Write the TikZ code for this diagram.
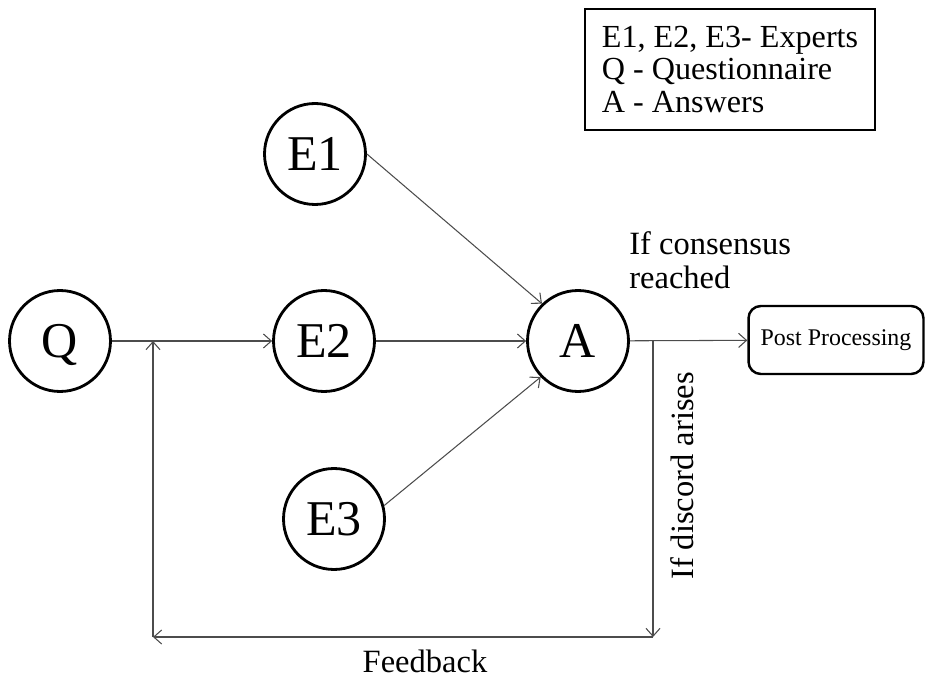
\documentclass[tikz,border=0pt]{standalone}
\usepackage{fontspec}
\setmainfont{Liberation Serif}
\usetikzlibrary{arrows.meta}
\begin{document}
\begin{tikzpicture}[x=0.02cm,y=-0.02cm,
  circ/.style={circle,draw=black,line width=1.6pt,minimum size=2.02cm,inner sep=0pt,text depth=0pt,font=\fontsize{28.5}{30}\selectfont},
  wire/.style={draw=black!70,line width=0.6pt},
  conn/.style={wire,-{Straight Barb[length=4.5pt,width=8pt]}},
  lbl/.style={font=\fontsize{18.5}{19.5}\selectfont,inner sep=0pt},
  boxed/.style={draw=black,line width=1.4pt,inner sep=0pt}]
\useasboundingbox (0,0) rectangle (926,678);
% legend
\node[boxed,minimum width=5.8cm,minimum height=2.42cm,align=left,font=\fontsize{18.3}{18.5}\selectfont] (legend) at (730,69.5)
  {E1, E2, E3- Experts\\Q - Questionnaire\\A - Answers};
% circles
\node[circ] (Q) at (60,341) {Q};
\node[circ] (E1) at (315,154) {E1};
\node[circ] (E2) at (324,341) {E2};
\node[circ] (E3) at (334,519) {E3};
\node[circ] (A) at (578,341) {A};
% post processing
\node[boxed,rounded corners=7pt,minimum width=3.5cm,minimum height=1.36cm,font=\fontsize{13.6}{15}\selectfont] (PP) at (836,340) {Post Processing};
% junctions
\coordinate (j1) at (653,341);
\coordinate (c1) at (653,637);
\coordinate (c2) at (153,637);
\coordinate (j2) at (153,341);
% connectors
\draw[conn] (Q) -- (E2);
\draw[conn] (E1.east) -- (A.134);
\draw[conn] (E2) -- (A);
\draw[conn] (E3.15) -- (A.224);
\draw[conn] (A) -- (PP);
\draw[conn] (j1) -- (c1);
\draw[conn] (c1) -- (c2);
\draw[conn] (c2) -- (j2);
% labels
\node[lbl,align=left,anchor=west] (cons) at (629,260) {If consensus\\reached};
\node[lbl,rotate=90] (disc) at (682,476) {If discord arises};
\node[lbl] (fb) at (425,661) {Feedback};
\end{tikzpicture}
\end{document}
